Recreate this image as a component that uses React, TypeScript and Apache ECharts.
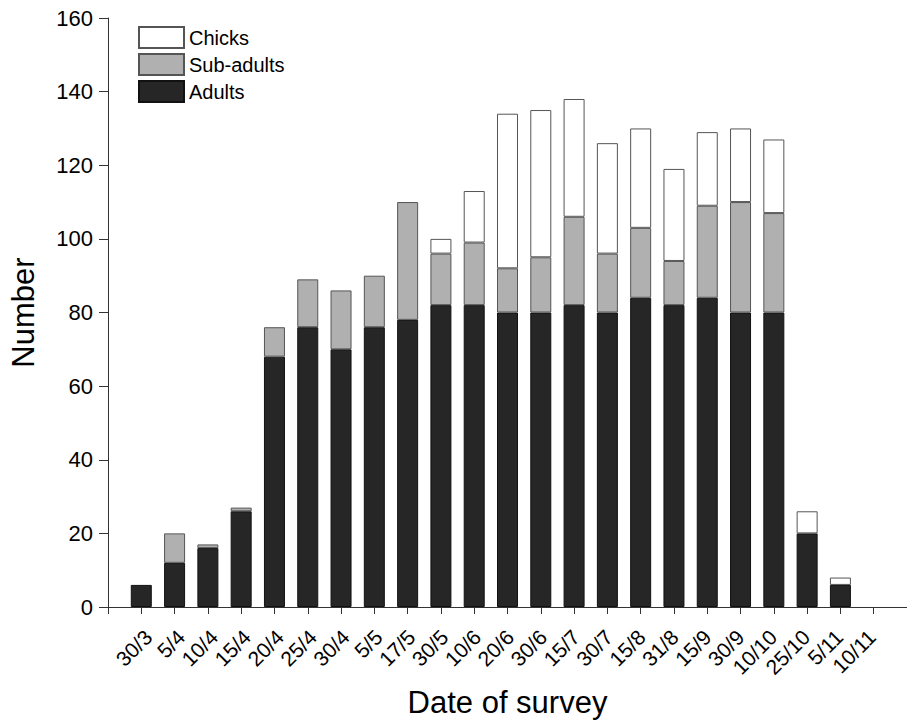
import React, { useEffect, useRef } from "react";
import * as echarts from "echarts";

const categories = ["", "30/3", "5/4", "10/4", "15/4", "20/4", "25/4", "30/4", "5/5", "17/5", "30/5", "10/6", "20/6", "30/6", "15/7", "30/7", "15/8", "31/8", "15/9", "30/9", "10/10", "25/10", "5/11", "10/11", ""];
const adults = [null, 6, 12, 16, 26, 68, 76, 70, 76, 78, 82, 82, 80, 80, 82, 80, 84, 82, 84, 80, 80, 20, 6, 0, null];
const subAdults = [null, 0, 8, 1, 1, 8, 13, 16, 14, 32, 14, 17, 12, 15, 24, 16, 19, 12, 25, 30, 27, 0, 0, 0, null];
const chicks = [null, 0, 0, 0, 0, 0, 0, 0, 0, 0, 4, 14, 42, 40, 32, 30, 27, 25, 20, 20, 20, 6, 2, 0, null];
const yTicks = { min: 0, max: 160, interval: 20 };

const FONT = "Liberation Sans, Arial, sans-serif";

const nz = (arr: (number | null)[]) => arr.map((v) => (v === 0 ? null : v));

export default function App() {
  const ref = useRef<HTMLDivElement>(null);
  useEffect(() => {
    if (!ref.current) return;
    const chart = echarts.init(ref.current, null, { renderer: "svg" });
    const barWidth = 21;
    chart.setOption({
      animation: false,
      backgroundColor: "#ffffff",
      textStyle: { fontFamily: FONT },
      legend: {
        orient: "vertical",
        left: 138,
        top: 26,
        padding: 0,
        itemWidth: 45,
        itemHeight: 21,
        itemGap: 4,
        icon: "rect",
        data: ["Chicks", "Sub-adults", "Adults"],
        textStyle: { fontSize: 20, lineHeight: 21, color: "#000", fontFamily: FONT },
      },
      grid: [
        { left: 108, top: 18, width: 802, height: 594, containLabel: false },
        { left: 115.5, top: 18, width: 802, height: 594, containLabel: false },
      ],
      xAxis: [
        {
          type: "category",
          gridIndex: 0,
          data: categories,
          boundaryGap: false,
          axisLine: { lineStyle: { color: "#333", width: 1 } },
          axisTick: { show: true, interval: 0, length: 7, lineStyle: { color: "#333" } },
          axisLabel: { show: false },
          name: "Date of survey",
          nameLocation: "middle",
          nameGap: 80,
          nameTextStyle: { fontSize: 31, color: "#000", fontFamily: FONT },
          splitLine: { show: false },
        },
        {
          type: "category",
          gridIndex: 1,
          data: categories,
          boundaryGap: false,
          axisLine: { show: false },
          axisTick: { show: false },
          axisLabel: { interval: 0, rotate: 45, fontSize: 21, color: "#000", margin: 21.5, fontFamily: FONT },
          splitLine: { show: false },
        },
      ],
      yAxis: [
        {
          type: "value",
          gridIndex: 0,
          min: yTicks.min,
          max: yTicks.max,
          interval: yTicks.interval,
          axisLine: { show: true, lineStyle: { color: "#333", width: 1 } },
          axisTick: { show: true, length: 9, lineStyle: { color: "#333" } },
          axisLabel: { fontSize: 22, color: "#000", margin: 15, fontFamily: FONT },
          splitLine: { show: false },
          name: "Number",
          nameLocation: "middle",
          nameGap: 69,
          nameTextStyle: { fontSize: 31, color: "#000", fontFamily: FONT },
        },
        {
          type: "value",
          gridIndex: 1,
          min: yTicks.min,
          max: yTicks.max,
          show: false,
        },
      ],
      series: [
        {
          name: "Adults",
          type: "bar",
          stack: "total",
          barWidth,
          data: nz(adults),
          itemStyle: { color: "#262626", borderColor: "#111", borderWidth: 1 },
        },
        {
          name: "Sub-adults",
          type: "bar",
          stack: "total",
          barWidth,
          data: nz(subAdults),
          itemStyle: { color: "#b0b0b0", borderColor: "#555", borderWidth: 1 },
        },
        {
          name: "Chicks",
          type: "bar",
          stack: "total",
          barWidth,
          data: nz(chicks),
          itemStyle: { color: "#ffffff", borderColor: "#555", borderWidth: 1 },
        },
      ],
    });
    return () => chart.dispose();
  }, []);
  return (
    <div
      ref={ref}
      style={{ position: "fixed", left: 0, top: 0, width: 907, height: 723 }}
    />
  );
}
